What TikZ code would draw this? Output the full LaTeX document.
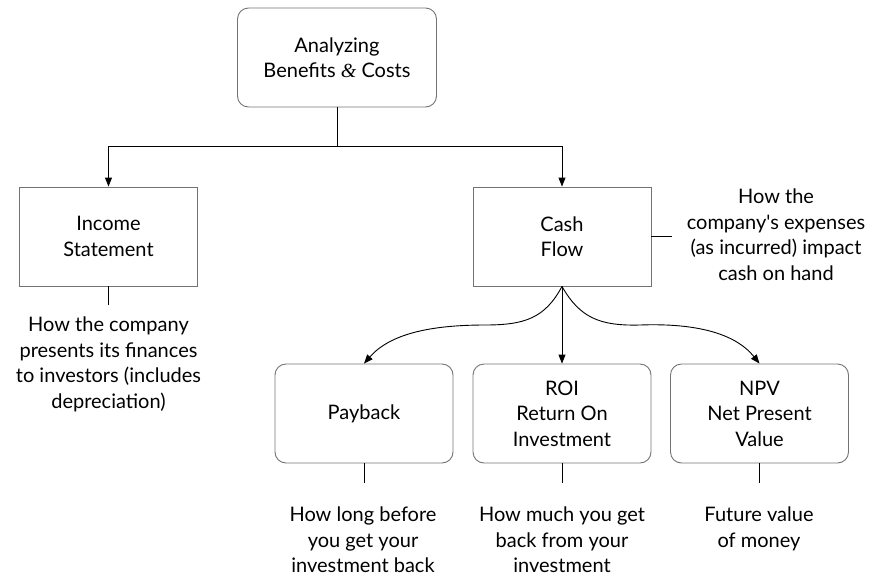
\documentclass[tikz,border=0pt]{standalone}
\usepackage{fontspec}
\setmainfont{Lato}[Ligatures=TeXOff]
\newfontfamily\ampfont{Liberation Serif}
\usetikzlibrary{arrows.meta}
\begin{document}
\begin{tikzpicture}[x=1pt,y=-1pt,
  font=\fontsize{20}{25.5}\selectfont,
  box/.style={draw=black!55, line width=0.9pt, minimum width=178pt, minimum height=99pt, align=center, inner sep=0pt},
  rbox/.style={box, rounded corners=11pt},
  note/.style={align=center, inner sep=0pt, anchor=north},
  conn/.style={draw=black, line width=0.9pt},
  arr/.style={conn, -{Triangle[length=9pt,width=7pt]}}
]
\useasboundingbox (0,0) rectangle (876,582);
\node[rbox, minimum width=199pt] (top) at (337,57.5) {Analyzing\\Benefits {\ampfont\itshape\&} Costs};
\node[box] (inc) at (108.5,236.5) {Income\\Statement};
\node[box] (cf) at (562,236.5) {Cash\\Flow};
\node[rbox] (pb) at (364,413.5) {Payback};
\node[rbox] (roi) at (562,413.5) {ROI\\Return On\\Investment};
\node[rbox] (npv) at (759.5,413.5) {NPV\\Net Present\\Value};

\coordinate (j) at (337,146);
\draw[conn] (top.south) -- (j);
\draw[arr] (j) -| (inc.north);
\draw[arr] (j) -| (cf.north);

\coordinate (incT) at (108.5,305);
\draw[conn] (inc.south) -- (incT);
\node[note] (incN) at (108.5,317) {How the company\\presents its finances\\to investors (includes\\depreciation)};

\coordinate (cfT) at (672,236.5);
\draw[conn] (cf.east) -- (cfT);
\node[note] (cfN) at (776,189) {How the\\company's expenses\\(as incurred) impact\\cash on hand};

\draw[arr] (cf.south) .. controls (545,318) and (525,325) .. (485,325) .. controls (430,325) and (390,334) .. (pb.north);
\draw[arr] (cf.south) -- (roi.north);
\draw[arr] (cf.south) .. controls (580,318) and (600,326) .. (640,325) .. controls (695,323) and (735,333) .. (npv.north);

\coordinate (pbT) at (364,483);
\coordinate (roiT) at (562,483);
\coordinate (npvT) at (759.5,483);
\draw[conn] (pb.south) -- (pbT);
\draw[conn] (roi.south) -- (roiT);
\draw[conn] (npv.south) -- (npvT);
\node[note] (pbN) at (363,507) {How long before\\you get your\\investment back};
\node[note] (roiN) at (562,507) {How much you get\\back from your\\investment};
\node[note] (npvN) at (759,507) {Future value\\of money};
\end{tikzpicture}
\end{document}
